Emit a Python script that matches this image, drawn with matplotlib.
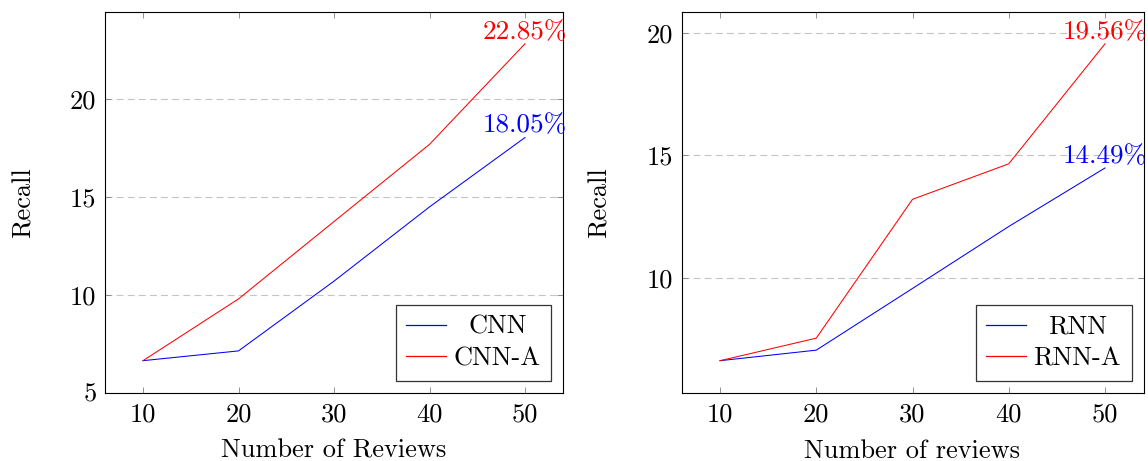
import matplotlib
matplotlib.use("Agg")
import matplotlib.pyplot as plt

plt.rcParams['font.family'] = 'serif'
plt.rcParams['font.serif'] = ['cmr10', 'DejaVu Serif']
plt.rcParams['mathtext.fontset'] = 'cm'
plt.rcParams['axes.formatter.use_mathtext'] = True
plt.rcParams['lines.scale_dashes'] = False

reviews = [10, 20, 30, 40, 50]
cnn = [6.63, 7.13, 10.7, 14.5, 18.05]
cnn_a = [6.63, 9.79, 13.75, 17.7, 22.85]
rnn = [6.62, 7.05, 9.57, 12.1, 14.49]
rnn_a = [6.62, 7.54, 13.21, 14.66, 19.56]

x_ticks = [10, 20, 30, 40, 50]
left_yticks = [5, 10, 15, 20]
right_yticks = [10, 15, 20]

BLUE = '#0000ff'
RED = '#ff0000'
FS = 19
W, H = 1148, 461
fig = plt.figure(figsize=(W / 100, H / 100), dpi=100)

ax1 = fig.add_axes([104.8 / W, (H - 393) / H, 458.4 / W, 381 / H])
ax2 = fig.add_axes([681.5 / W, (H - 393) / H, 462 / W, 381 / H])


def style(ax, base, aug, base_name, aug_name, yticks, xlabel, ylim):
    ax.plot(reviews, base, color=BLUE, lw=0.75, label=base_name)
    ax.plot(reviews, aug, color=RED, lw=0.75, label=aug_name)
    ax.set_xlim(6, 54)
    ax.set_ylim(*ylim)
    ax.set_xticks(x_ticks, [str(v) for v in x_ticks])
    ax.set_yticks(yticks, [str(v) for v in yticks])
    ax.set_axisbelow(True)
    ax.yaxis.grid(True, linestyle=(0, (5, 3)), color='#c4c4c4', lw=0.8)
    ax.tick_params(direction='in', top=True, right=True, length=4.3,
                   width=0.6, color='#808080', labelsize=FS, pad=6)
    ax.tick_params(axis='x', pad=7)
    for s in ax.spines.values():
        s.set_linewidth(0.8)
        s.set_color('black')
    ax.set_xlabel(xlabel, fontsize=FS, labelpad=9)
    ax.set_ylabel('Recall', fontsize=FS)
    ax.yaxis.set_label_coords(-0.152, 0.5)
    ax.text(reviews[-1], aug[-1], f'{aug[-1]:.2f}%', color=RED,
            fontsize=FS + 0.5, ha='center', va='bottom', clip_on=False)
    ax.text(reviews[-1], base[-1], f'{base[-1]:.2f}%', color=BLUE,
            fontsize=FS + 0.5, ha='center', va='bottom', clip_on=False)
    leg = ax.legend(loc='lower right', fontsize=FS, fancybox=False,
                    framealpha=1, edgecolor='#333333', borderaxespad=0.45,
                    handlelength=1.5, handletextpad=0.3, borderpad=0.4,
                    labelspacing=0.3)
    leg.get_frame().set_linewidth(0.9)
    for h, c in zip(leg.get_lines(), (BLUE, RED)):
        h.set_color(c)
        h.set_linewidth(0.9)
    return leg


leg1 = style(ax1, cnn, cnn_a, 'CNN', 'CNN-A', left_yticks,
             'Number of Reviews', (4.975, 24.475))
leg2 = style(ax2, rnn, rnn_a, 'RNN', 'RNN-A', right_yticks,
             'Number of reviews', (5.30, 20.86))

fig.canvas.draw()
r = fig.canvas.get_renderer()
for leg in (leg1, leg2):
    texts = leg.get_texts()
    widths = [t.get_window_extent(r).width for t in texts]
    wmax = max(widths)
    for t, w in zip(texts, widths):
        t.set_x((wmax - w) / 2)

fig.savefig('out.png', dpi=100)
